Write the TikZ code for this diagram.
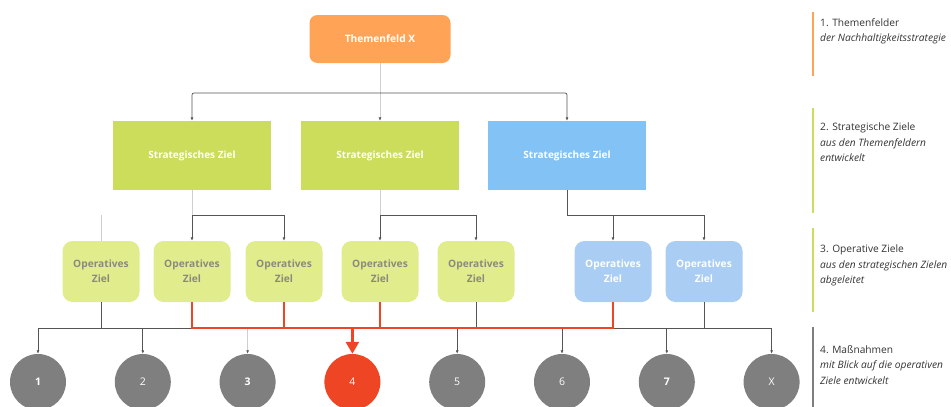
\documentclass[tikz,border=0pt]{standalone}
\usepackage{fontspec}
\setmainfont{Open Sans}
\usetikzlibrary{arrows.meta}
\usetikzlibrary{positioning}

\definecolor{themeorange}{HTML}{FFA357}
\definecolor{szgreen}{HTML}{CBDD5A}
\definecolor{szblue}{HTML}{82C2F4}
\definecolor{ozgreen}{HTML}{E1ED8D}
\definecolor{ozblue}{HTML}{A9CDF3}
\definecolor{oztext}{HTML}{8A8A7C}
\definecolor{mgray}{HTML}{7F7F7F}
\definecolor{mred}{HTML}{EE4524}
\definecolor{linegray}{HTML}{555555}
\definecolor{fadegray}{HTML}{CFCFCF}
\definecolor{textgray}{HTML}{333333}

\tikzset{
  tbox/.style={fill=themeorange,rounded corners=8pt,minimum width=141pt,minimum height=48pt,
    text=white,font=\bfseries\fontsize{10.2}{12}\selectfont},
  sbox/.style={fill=szgreen,minimum width=158pt,minimum height=69pt,
    text=white,font=\bfseries\fontsize{10}{12}\selectfont},
  obox/.style={fill=ozgreen,rounded corners=10pt,minimum width=77pt,minimum height=61pt,
    align=center,text=oztext,font=\bfseries\fontsize{10.2}{15}\selectfont},
  mnode/.style={circle,fill=mgray,minimum size=56pt,inner sep=0pt,text=white,
    font=\fontsize{10.5}{12}\selectfont},
  conn/.style={linegray,line width=0.7pt},
  fade/.style={fadegray,line width=0.9pt},
  arr/.style={-{Latex[length=3.5pt,width=3pt,color=linegray]}},
  redline/.style={mred,line width=2.6pt},
  legend/.style={anchor=north west,align=left,inner sep=0pt,text=textgray,
    font=\fontsize{10.2}{15.5}\selectfont},
  bar/.style={line width=2.6pt}
}

\begin{document}
\begin{tikzpicture}[x=1pt,y=-1pt,node distance=104.8pt]
  \useasboundingbox (0,0) rectangle (951,407);
  \clip (0,0) rectangle (951,407);

  % Themenfeld and strategische Ziele
  \node[tbox] (t) at (380,39) {Themenfeld X};
  \node[sbox] (s1) at (192,155.5) {Strategisches Ziel};
  \node[sbox] (s2) at (380,155.5) {Strategisches Ziel};
  \node[sbox,fill=szblue] (s3) at (567,155.5) {Strategisches Ziel};

  % operative Ziele
  \node[obox] (o1) at (101,271.5) {Operatives\\Ziel};
  \node[obox] (o2) at (192,271.5) {Operatives\\Ziel};
  \node[obox] (o3) at (284,271.5) {Operatives\\Ziel};
  \node[obox] (o4) at (380,271.5) {Operatives\\Ziel};
  \node[obox] (o5) at (476,271.5) {Operatives\\Ziel};
  \node[obox,fill=ozblue,text=white] (o6) at (613,271.5) {Operatives\\Ziel};
  \node[obox,fill=ozblue,text=white] (o7) at (704,271.5) {Operatives\\Ziel};

  % Massnahmen
  \node[mnode] (m1) at (38,382) {\bfseries 1};
  \node[mnode,right of=m1] (m2) {2};
  \node[mnode,right of=m2] (m3) {\bfseries 3};
  \node[mnode,right of=m3,fill=mred] (m4) {4};
  \node[mnode,right of=m4] (m5) {5};
  \node[mnode,right of=m5] (m6) {6};
  \node[mnode,right of=m6] (m7) {\bfseries 7};
  \node[mnode,right of=m7] (m8) {X};

  \coordinate (tj) at (380,93);
  \coordinate (j1) at (192,215);
  \coordinate (j2) at (380,215);
  \coordinate (j3) at (567,215);
  \coordinate (bus) at (0,328);

  % top level
  \draw[fade] (t.south) -- (tj);
  \draw[fade,arr] (tj) -- (s2.north);
  \draw[conn,arr,rounded corners=2pt] (tj) -| (s1.north);
  \draw[conn,arr,rounded corners=2pt] (tj) -| (s3.north);

  % strategische -> operative Ziele
  \draw[fade] (s1.south) -- (j1);
  \draw[conn,arr] (j1) -- (o2.north);
  \draw[conn,arr] (j1) -| (o3.north);
  \draw[fade] (o1.north |- j1) -- (o1.north);
  \draw[fade] (s2.south) -- (j2);
  \draw[conn,arr] (j2) -- (o4.north);
  \draw[conn,arr] (j2) -| (o5.north);
  \draw[conn] (s3.south) -- (j3);
  \draw[conn,arr] (j3) -| (o6.north);
  \draw[conn,arr] (j3) -| (o7.north);

  % operative Ziele -> Massnahmen
  \draw[conn] (m1.north |- bus) -- (m8.north |- bus);
  \draw[conn] (o1.south) -- (o1.south |- bus);
  \draw[conn] (o5.south) -- (o5.south |- bus);
  \draw[conn] (o7.south) -- (o7.south |- bus);
  \draw[conn,arr] (m1.north |- bus) -- (m1.north);
  \draw[conn,arr] (m2.north |- bus) -- (m2.north);
  \draw[fade,arr] (m3.north |- bus) -- (m3.north);
  \draw[conn,arr] (m5.north |- bus) -- (m5.north);
  \draw[conn,arr] (m6.north |- bus) -- (m6.north);
  \draw[conn,arr] (m7.north |- bus) -- (m7.north);
  \draw[conn,arr] (m8.north |- bus) -- (m8.north);
  \draw[redline] (o2.south) |- (bus -| o6.south) -- (o6.south);
  \draw[redline] (o4.south) -- (o4.south |- bus);
  \draw[mred,line width=1.3pt] (o3.south) -- (o3.south |- bus);
  \draw[redline,-{Triangle[length=12pt,width=13pt]}] (m4.north |- bus) -- (m4.north);

  % legend
  \draw[bar,themeorange] (813,12) -- (813,76);
  \draw[bar,szgreen] (813,108) -- (813,213);
  \draw[bar,szgreen] (813,228) -- (813,312);
  \draw[bar,mgray] (813,327) -- (813,407);
  \node[legend] (l1) at (820,18) {1. Themenfelder\\\itshape der Nachhaltigkeitsstrategie};
  \node[legend] (l2) at (820,123) {2. Strategische Ziele\\\itshape aus den Themenfeldern\\\itshape entwickelt};
  \node[legend] (l3) at (820,245) {3. Operative Ziele\\\itshape aus den strategischen Zielen\\\itshape abgeleitet};
  \node[legend] (l4) at (820,345) {4. Maßnahmen\\\itshape mit Blick auf die operativen\\\itshape Ziele entwickelt};
\end{tikzpicture}
\end{document}
